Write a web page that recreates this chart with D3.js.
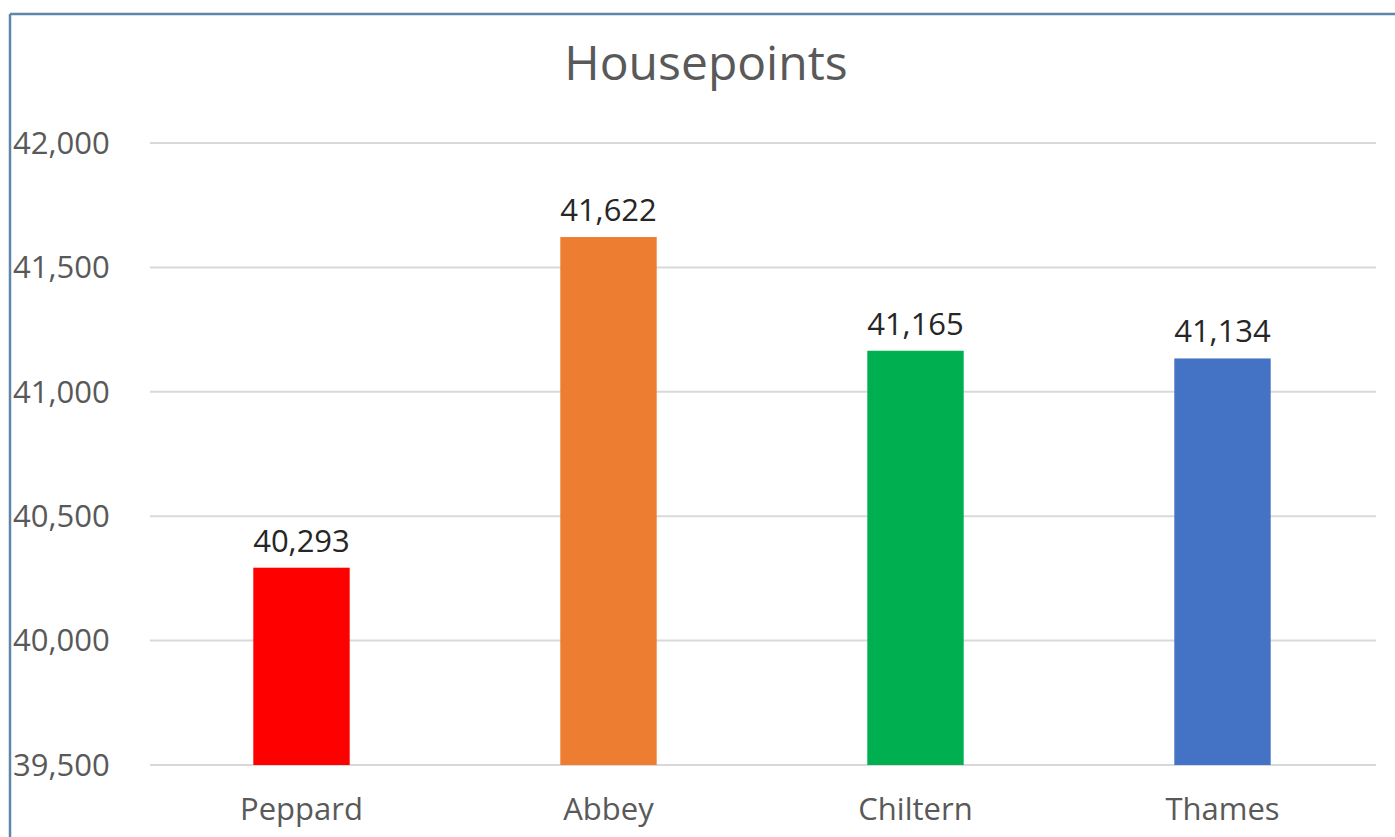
<!DOCTYPE html>
<html>
<head>
<meta charset="utf-8">
<script src="https://cdn.jsdelivr.net/npm/d3@7"></script>
<style>
  body { margin: 0; background: #fff; }
  svg { display: block; font-family: "Open Sans", "Noto Sans", sans-serif; }
</style>
</head>
<body>
<div id="chart"></div>
<script>
// Chart data
const houses = ["Peppard", "Abbey", "Chiltern", "Thames"];
const points = [40293, 41622, 41165, 41134];
const houseColors = ["#ff0000", "#ed7d31", "#00b050", "#4472c4"];
const yTicks = [39500, 40000, 40500, 41000, 41500, 42000];

const width = 1395;
const height = 837;

const svg = d3.select("#chart")
    .append("svg")
    .attr("width", width)
    .attr("height", height);

// Chart frame (only top and left visible in the crop)
svg.append("line")
    .attr("x1", 10).attr("x2", width).attr("y1", 14).attr("y2", 14)
    .attr("stroke", "#5f86a8").attr("stroke-width", 2.5);
svg.append("line")
    .attr("x1", 10).attr("x2", 10).attr("y1", 14).attr("y2", height)
    .attr("stroke", "#5f86a8").attr("stroke-width", 2.5);

const x = d3.scaleBand()
    .domain(houses)
    .range([148, 1376])
    .paddingInner(0.686)
    .paddingOuter(0.343);

const y = d3.scaleLinear()
    .domain([39500, 42000])
    .range([765, 143]);

// Gridlines
svg.append("g")
    .selectAll("line")
    .data(yTicks)
    .enter().append("line")
    .attr("x1", 150)
    .attr("x2", 1376)
    .attr("y1", d => y(d))
    .attr("y2", d => y(d))
    .attr("stroke", "#d9d9d9")
    .attr("stroke-width", 2);

// Y axis labels
const fmt = d3.format(",");
svg.append("g")
    .selectAll("text")
    .data(yTicks)
    .enter().append("text")
    .attr("x", 13)
    .attr("y", d => y(d))
    .attr("dy", "0.35em")
    .attr("font-size", 31)
    .attr("fill", "#595959")
    .text(d => fmt(d));

// Bars
svg.append("g")
    .selectAll("rect")
    .data(houses)
    .enter().append("rect")
    .attr("x", d => x(d))
    .attr("width", x.bandwidth())
    .attr("y", (d, i) => y(points[i]))
    .attr("height", (d, i) => y(39500) - y(points[i]))
    .attr("fill", (d, i) => houseColors[i]);

// Value labels
svg.append("g")
    .selectAll("text")
    .data(houses)
    .enter().append("text")
    .attr("x", d => x(d) + x.bandwidth() / 2)
    .attr("y", (d, i) => y(points[i]) - 16)
    .attr("text-anchor", "middle")
    .attr("font-size", 31)
    .attr("fill", "#262626")
    .text((d, i) => fmt(points[i]));

// Category labels
svg.append("g")
    .selectAll("text")
    .data(houses)
    .enter().append("text")
    .attr("x", d => x(d) + x.bandwidth() / 2)
    .attr("y", 820)
    .attr("text-anchor", "middle")
    .attr("font-size", 31)
    .attr("fill", "#595959")
    .text(d => d);

// Title
svg.append("text")
    .attr("x", 706)
    .attr("y", 80)
    .attr("text-anchor", "middle")
    .attr("font-size", 48)
    .attr("fill", "#595959")
    .text("Housepoints");
</script>
</body>
</html>
